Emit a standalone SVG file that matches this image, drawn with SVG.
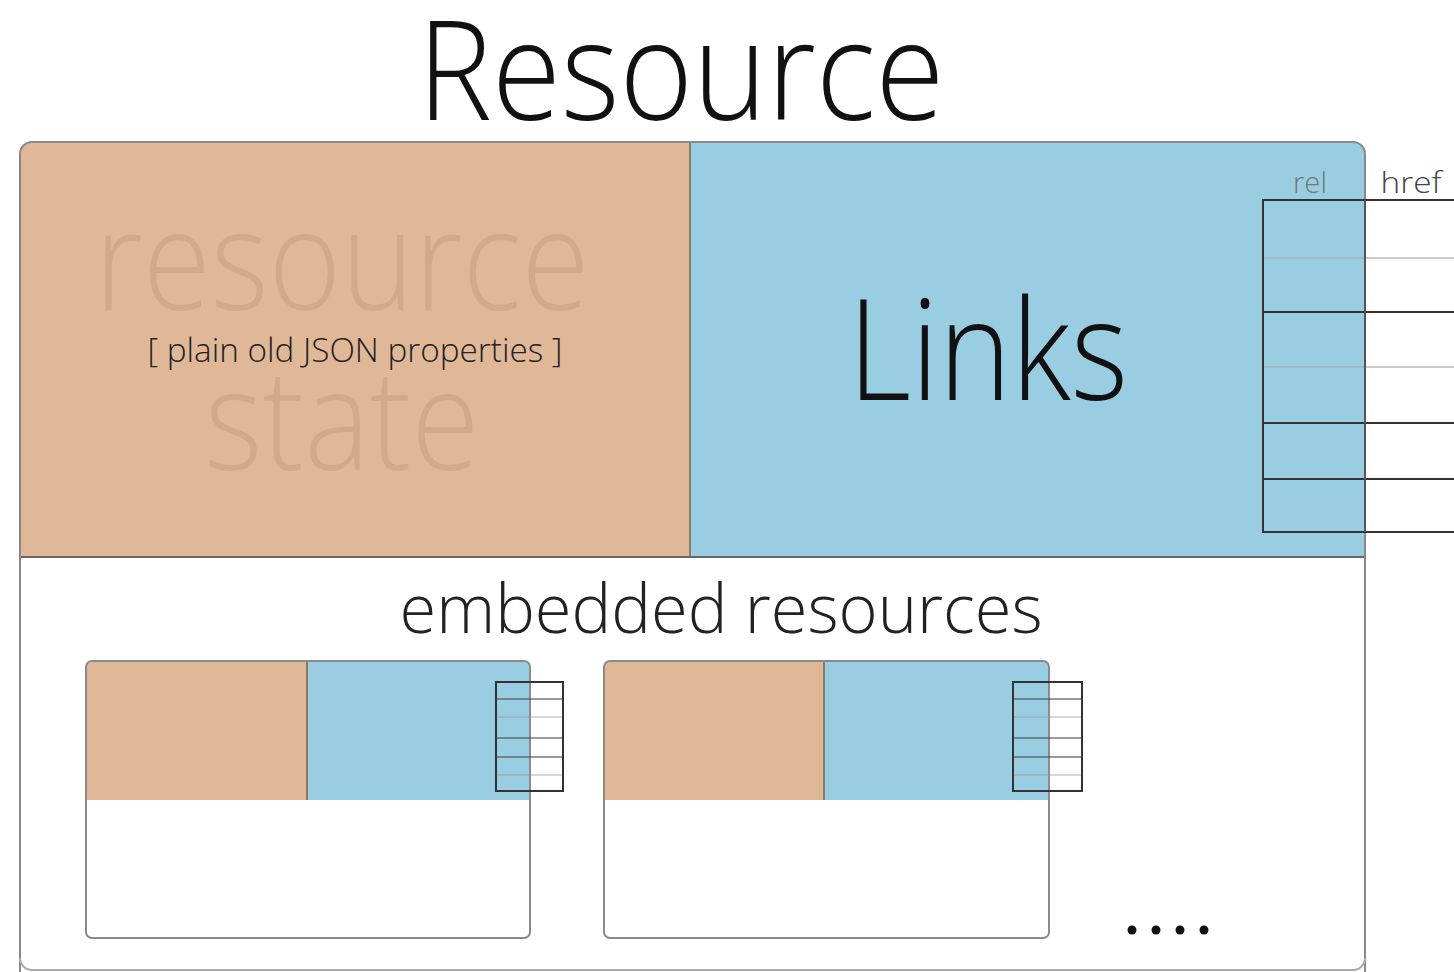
<svg xmlns="http://www.w3.org/2000/svg" width="1454" height="972" viewBox="0 0 1454 972">
<style>
.t{font-family:"Open Sans","Lato","Liberation Sans",sans-serif;font-weight:300}
.or{fill:#E0B898}
.bl{fill:#98CDE2}
.box{fill:none;stroke:#8a8a8a;stroke-width:2}
.dk{stroke:#333;stroke-width:2;fill:none}
</style>
<rect width="1454" height="972" fill="#fff"/>
<text class="t" x="681" y="120" font-size="138" text-anchor="middle" fill="#111" textLength="527" lengthAdjust="spacingAndGlyphs">Resource</text>
<g id="resource">
<path class="or" d="M32,142 H690 V557 H20 V154 A12,12 0 0 1 32,142 Z"/>
<path class="bl" d="M690,142 H1353 A12,12 0 0 1 1365,154 V557 H690 Z"/>
<line x1="690" y1="142" x2="690" y2="557" stroke="#8a7a6a" stroke-width="2"/>
<line x1="20" y1="557" x2="1365" y2="557" stroke="#666" stroke-width="2"/>
<path d="M20,985 V154 A12,12 0 0 1 32,142 H1353 A12,12 0 0 1 1365,154 V985" fill="none" stroke="#888" stroke-width="2"/>
<path d="M20,958 A12,12 0 0 0 32,970 H1353 A12,12 0 0 0 1365,958" fill="none" stroke="#aaa" stroke-width="2"/>
<text class="t" x="342" y="310" font-size="140" text-anchor="middle" fill="#D3AA89" textLength="495" lengthAdjust="spacingAndGlyphs">resource</text>
<text class="t" x="342" y="470" font-size="140" text-anchor="middle" fill="#D3AA89" textLength="275" lengthAdjust="spacingAndGlyphs">state</text>
<text class="t" x="355" y="362" font-size="33" text-anchor="middle" fill="#222" font-weight="400" textLength="415" lengthAdjust="spacingAndGlyphs">[ plain old JSON properties ]</text>
<text class="t" x="988" y="400" font-size="140" text-anchor="middle" fill="#111" textLength="280" lengthAdjust="spacingAndGlyphs">Links</text>
<text class="t" x="721" y="633" font-size="68" text-anchor="middle" fill="#222" textLength="643" lengthAdjust="spacingAndGlyphs">embedded resources</text>
</g>
<g id="links-table">
<text class="t" x="1310" y="193" font-size="30" text-anchor="middle" fill="#777" textLength="34" lengthAdjust="spacingAndGlyphs">rel</text>
<text class="t" x="1411" y="193" font-size="30" text-anchor="middle" fill="#444" textLength="61" lengthAdjust="spacingAndGlyphs">href</text>
<line x1="1263" y1="258" x2="1454" y2="258" stroke="#aaa" stroke-width="2" stroke-opacity="0.6"/>
<line x1="1263" y1="367" x2="1454" y2="367" stroke="#aaa" stroke-width="2" stroke-opacity="0.6"/>
<line x1="1263" y1="312" x2="1454" y2="312" stroke="#333" stroke-width="2"/>
<line x1="1263" y1="423" x2="1454" y2="423" stroke="#333" stroke-width="2"/>
<line x1="1263" y1="479" x2="1454" y2="479" stroke="#333" stroke-width="2"/>
<path d="M1454,200 H1263 V532 H1454" class="dk"/>
<line x1="1365" y1="200" x2="1365" y2="532" stroke="#555" stroke-width="2"/>
</g>
<g id="embedded-1">
<path class="or" d="M92,661 H307 V800 H86 V667 A6,6 0 0 1 92,661 Z"/>
<path class="bl" d="M307,661 H524 A6,6 0 0 1 530,667 V800 H307 Z"/>
<line x1="307" y1="661" x2="307" y2="800" stroke="#8a7a6a" stroke-width="2"/>
<rect x="86" y="661" width="444" height="277" rx="6" class="box"/>
<path d="M496,699 H563 M496,738 H563 M496,757 H563" stroke="#444" stroke-width="1.5" opacity="0.7"/>
<path d="M496,717 H563 M496,775 H563" stroke="#999" stroke-width="1.5" opacity="0.5"/>
<rect x="496" y="682" width="67" height="109" class="dk"/>
</g>
<g id="embedded-2">
<path class="or" d="M610,661 H824 V800 H604 V667 A6,6 0 0 1 610,661 Z"/>
<path class="bl" d="M824,661 H1043 A6,6 0 0 1 1049,667 V800 H824 Z"/>
<line x1="824" y1="661" x2="824" y2="800" stroke="#8a7a6a" stroke-width="2"/>
<rect x="604" y="661" width="445" height="277" rx="6" class="box"/>
<path d="M1013,699 H1082 M1013,738 H1082 M1013,757 H1082" stroke="#444" stroke-width="1.5" opacity="0.7"/>
<path d="M1013,717 H1082 M1013,775 H1082" stroke="#999" stroke-width="1.5" opacity="0.5"/>
<rect x="1013" y="682" width="69" height="109" class="dk"/>
</g>
<g id="ellipsis" fill="#111">
<circle cx="1132" cy="930" r="4.5"/>
<circle cx="1156" cy="930" r="4.5"/>
<circle cx="1180" cy="930" r="4.5"/>
<circle cx="1204" cy="930" r="4.5"/>
</g>
<g id="connectors"></g>
</svg>
